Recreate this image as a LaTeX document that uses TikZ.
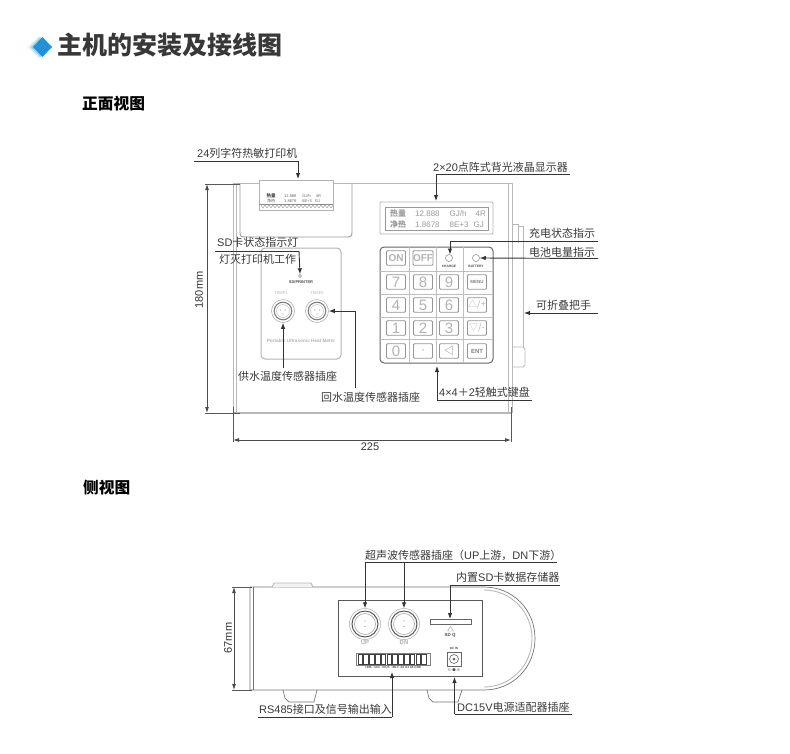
\documentclass[tikz,border=0pt]{standalone}
\usepackage{fontspec}
\setmainfont{Noto Sans CJK SC}
\newfontfamily\la{Liberation Sans}
\usetikzlibrary{arrows.meta}
\tikzset{
 lbl/.style={inner sep=0pt,anchor=west,text=black!78,font=\fontsize{11}{11}\selectfont},
 lead/.style={draw=black!80,line width=.9pt},
 leadarrow/.style={lead,-{Latex[length=6pt,width=4.5pt]}},
 dimline/.style={draw=black!70,line width=.8pt,{Latex[length=6pt,width=4pt]}-{Latex[length=6pt,width=4pt]}},
 ext/.style={draw=black!65,line width=.8pt},
 body/.style={draw=black!28,line width=.9pt},
 bodyd/.style={draw=black!55,line width=.7pt},
 keybox/.style={draw=black!42,line width=.9pt,rounded corners=1pt,minimum width=19pt,minimum height=14.5pt,inner sep=0pt,text=black!30,font=\la\fontsize{9}{9}\selectfont},
 digit/.style={keybox,font=\la\fontsize{15}{15}\selectfont},
 tiny/.style={inner sep=0pt,text=black!70,font=\la\fontsize{3.5}{4}\selectfont},
 pale/.style={inner sep=0pt,text=black!30,font=\la\fontsize{4}{4}\selectfont},
 lcd/.style={inner sep=0pt,anchor=west,text=black!40,font=\fontsize{8}{8}\selectfont},
}
\begin{document}
\begin{tikzpicture}[x=1pt,y=-1pt]
\useasboundingbox (0,0) rectangle (790,753);
% heading
\fill[cyan!20] (28,47) -- (39,36) -- (50,47) -- (39,58) -- cycle;
\fill[cyan!45] (30.5,47) -- (40.5,37) -- (50.5,47) -- (40.5,57) -- cycle;
\fill[cyan!70!blue!90] (33,47) -- (42.5,37) -- (52,47) -- (42.5,57) -- cycle;
\node[inner sep=0pt,anchor=west,text=black!78,font=\fontsize{25}{25}\selectfont\bfseries] (title) at (57,45) {主机的安装及接线图};
\node[inner sep=0pt,anchor=west,font=\fontsize{15.7}{16}\selectfont\bfseries] (front) at (82,104) {正面视图};
\node[inner sep=0pt,anchor=west,font=\fontsize{15.7}{16}\selectfont\bfseries] (side) at (83,488) {侧视图};

% ---------- front body
\draw[body] (233,183) -- (512,183);
\draw[body,line width=1.2pt] (233,413) -- (512,413);
\draw[body] (233,183) -- (233,413);
\draw[body] (236,183) -- (236,413);
\draw[body] (512,183) -- (512,413);
\draw[body] (508,183) -- (508,413);
\draw[body,draw=black!40] (240,183) -- (240,232) .. controls (240,236) and (241,237) .. (245,237) -- (347,237) .. controls (351,237) and (352,236) .. (352,232) -- (352,183);
% handle
\draw[body] (512,224) -- (518,224) -- (518,226) -- (523,226) -- (523,347);
\draw[body] (512,347) -- (523,347) -- (525,349) -- (525,365) -- (523,367) -- (512,367);
\draw[body] (518,226) -- (518,243);
% printer
\draw[draw=black!30,fill=white,line width=.7pt] (259,180) rectangle (333,210);
\draw[black!45,line width=.5pt] (259,204) -- (333,204);
\foreach \i in {0,...,17} \draw[black!45,line width=.3pt] ({261+\i*4},205) -- ({263+\i*4},208) -- ({265+\i*4},205);
\node[inner sep=0pt,font=\fontsize{4.5}{5}\selectfont\bfseries,text=black!75] (prn1) at (271,196) {热量};
\node[inner sep=0pt,font=\fontsize{4}{5}\selectfont,text=black!65] (prn2) at (271,201) {净热};
\node[inner sep=0pt,font=\la\fontsize{4}{5}\selectfont,text=black!60,anchor=west] (prn3) at (284,196) {12.888\hspace{6pt}GJ/h\hspace{5pt}4R};
\node[inner sep=0pt,font=\la\fontsize{4}{5}\selectfont,text=black!60,anchor=west] (prn4) at (284,201) {1.8678\hspace{6pt}8E+3\hspace{3pt}GJ};
% display
\draw[draw=black!30,line width=.9pt,rounded corners=1pt] (380,202) rectangle (493,234);
\draw[draw=black!40,line width=.7pt] (385,207) rectangle (488,230);
\node[lcd] (lcd1) at (390,213) {{\bfseries 热量}\hspace{9pt}{\la 12.888\hspace{10pt}GJ/h\hspace{9pt}4R}};
\node[lcd] (lcd2) at (390,224) {{\bfseries 净热}\hspace{9pt}{\la 1.8678\hspace{10pt}8E+3\hspace{5pt}GJ}};
% left panel
\draw[draw=black!30,line width=1pt,rounded corners=4pt] (261,248) rectangle (341,359);
\node[inner sep=0pt,circle,draw=black!45,line width=.4pt,minimum size=3pt] (sdled) at (300,276) {};
\node[tiny,font=\la\fontsize{4}{4}\selectfont\bfseries] (sdp) at (301,282) {SD/PRINTER};
\node[pale] (t1txt) at (281,293) {TEMP1};
\node[pale] (t2txt) at (317,293) {TEMP2};
\node[pale,font=\la\fontsize{4.7}{4}\selectfont\bfseries] (ph) at (301,341) {Portable Ultrasonic Heat Meter};
\foreach \nm/\x in {t1/283,t2/317}{
 \node[circle,draw=black!30,line width=.6pt,minimum size=23pt,inner sep=0pt] (\nm) at (\x,311) {};
 \draw[black!50,line width=1.1pt] (\x,311) circle[radius=8.8pt];
 \draw[black!25,line width=.5pt] (\x,311) circle[radius=6.5pt];
 \fill[black!40] (\x-2.5,310) circle[radius=.6pt] (\x+2.5,310) circle[radius=.6pt] (\x,314) circle[radius=.6pt];
}
% keypad
\draw[draw=black!60,line width=1pt,rounded corners=4pt] (380,247) rectangle (493,363);
\foreach \x in {409,436,463} \draw[black!25,line width=.9pt] (\x,247) -- (\x,363);
\foreach \y in {271,294,317,339} \draw[black!25,line width=.9pt] (380,\y) -- (493,\y);
\node[keybox,font=\la\fontsize{10}{10}\selectfont\bfseries] (kon) at (396,258) {ON};
\node[keybox,font=\la\fontsize{10}{10}\selectfont\bfseries] (koff) at (423,258) {OFF};
\foreach \nm/\x/\y/\t in {k7/396/282/7,k8/423/282/8,k9/449/282/9,k4/396/305/4,k5/423/305/5,k6/449/305/6,k1/396/328/1,k2/423/328/2,k3/449/328/3,k0/396/351/0}{
 \node[digit] (\nm) at (\x,\y) {\t};
}
\node[keybox,font=\la\fontsize{4.5}{5}\selectfont\bfseries,text=black!50] (kmenu) at (477,282) {MENU};
\node[keybox,font=\fontsize{9}{10}\selectfont] (kplus) at (477,305) {△/+};
\node[keybox,font=\fontsize{9}{10}\selectfont] (kminus) at (477,328) {▽/-};
\node[keybox,font=\la\fontsize{6}{6}\selectfont\bfseries,text=black!50] (kent) at (477,351) {ENT};
\node[keybox,font=\fontsize{6}{6}\selectfont,text=black!50] (kdot) at (423,351) {▫};
\node[keybox,font=\fontsize{10}{11}\selectfont,text=black!50] (kleft) at (449,351) {◁};
\node[circle,draw=black!50,line width=.5pt,minimum size=7pt,inner sep=0pt] (ledc) at (449,258) {};
\node[circle,draw=black!50,line width=.5pt,minimum size=7pt,inner sep=0pt] (ledb) at (476,258) {};
\node[tiny,font=\la\fontsize{3.3}{4}\selectfont\bfseries] (ctxt) at (449,266) {CHARGE};
\node[tiny,font=\la\fontsize{3.3}{4}\selectfont\bfseries] (btxt) at (476,266) {BATTERY};

% labels front
\node[lbl] (lp) at (197,153) {{\la 24}列字符热敏打印机};
\coordinate (lpa) at (194,161); \coordinate (lpb) at (298,161); \coordinate (lpc) at (298,179);
\draw[lead] (lpa) -- (lpb); \draw[leadarrow] (lpb) -- (lpc);
\node[lbl] (ldisp) at (433,167) {{\la 2×20}点阵式背光液晶显示器};
\coordinate (lda) at (570,174); \coordinate (ldb) at (436,174); \coordinate (ldc) at (436,201);
\draw[lead] (lda) -- (ldb); \draw[leadarrow] (ldb) -- (ldc);
\node[lbl] (lsd) at (217,242) {{\la SD}卡状态指示灯};
\node[lbl] (lsd2) at (219,259) {灯灭打印机工作};
\coordinate (lsa) at (215,251); \coordinate (lsb) at (299,251);
\draw[lead] (lsa) -- (lsb); \draw[leadarrow] (lsb) -- (sdled.north);
\node[lbl] (lch) at (529,233) {充电状态指示};
\coordinate (lca) at (598,241); \coordinate (lcb) at (450,241);
\draw[lead] (lca) -- (lcb); \draw[leadarrow] (lcb) -- (450,254.5);
\node[lbl] (lba) at (529,252) {电池电量指示};
\coordinate (lbb) at (598,258.5);
\draw[leadarrow] (lbb) -- (ledb.east);
\node[lbl] (lha) at (536,305) {可折叠把手};
\coordinate (lhb) at (598,313); \coordinate (lhc) at (524,313);
\draw[leadarrow] (lhb) -- (lhc);
\node[lbl] (lt1) at (238,376) {供水温度传感器插座};
\coordinate (lt1a) at (283,368);
\draw[leadarrow] (lt1a) -- (t1.south);
\node[lbl] (lt2) at (321,397) {回水温度传感器插座};
\coordinate (lt2a) at (355,388); \coordinate (lt2b) at (355,311);
\draw[lead] (lt2a) -- (lt2b); \draw[leadarrow] (lt2b) -- (t2.east);
\node[lbl] (lkb) at (439,392) {{\la 4×4}＋{\la 2}轻触式键盘};
\coordinate (lka) at (532,400); \coordinate (lkb2) at (437,400); \coordinate (lkc) at (437,366);
\draw[lead] (lka) -- (lkb2); \draw[leadarrow] (lkb2) -- (lkc);

% dims front
\coordinate (d1a) at (207,184); \coordinate (d1b) at (207,413);
\draw[dimline] (d1a) -- (d1b);
\draw[ext] (205,184) -- (240,184);
\draw[ext] (205,413) -- (240,413);
\node[lbl,anchor=center,rotate=90,text=black!80,font=\la\fontsize{11}{11}\selectfont] (d180) at (199,290) {180mm};
\coordinate (d2a) at (233,440); \coordinate (d2b) at (511,440);
\draw[dimline] (d2a) -- (d2b);
\draw[ext] (233,407) -- (233,442);
\draw[ext] (511,407) -- (511,442);
\node[lbl,anchor=center,text=black!80,font=\la\fontsize{11}{11}\selectfont] (d225) at (370,447) {225};

% ---------- side view
\draw[bodyd] (250,587) -- (484,587) .. controls (513,587) and (535,610) .. (535,638.5) .. controls (535,667) and (513,690) .. (484,690) -- (250,690) -- cycle;
\draw[bodyd] (253,587) -- (253,690);
\draw[body] (484,590) .. controls (511,590) and (532,612) .. (532,638.5) .. controls (532,665) and (511,687) .. (484,687);
\draw[body,fill=black!5] (272,587) -- (274,583) -- (311,583) -- (313,587);
\draw[bodyd] (283,690) -- (285,698) -- (289,702) -- (314,702) -- (317,690);
\draw[bodyd] (427,690) -- (429,698) -- (433,702) -- (458,702) -- (462,690);
\draw[draw=black!65,fill=white,line width=.8pt] (338,600) rectangle (482,676);
\foreach \nm/\x in {up/365,dn/404}{
 \node[circle,draw=black!35,line width=.5pt,minimum size=31pt,inner sep=0pt] (\nm) at (\x,624) {};
 \draw[black!65,line width=1pt] (\x,624) circle[radius=13pt];
 \draw[black!40,line width=.5pt] (\x,624) circle[radius=10.5pt];
 \fill[black!45] (\x,621) circle[radius=.7pt] (\x,626.5) circle[radius=.7pt];
}
\node[pale,font=\la\fontsize{6}{6}\selectfont\bfseries] (upt) at (365,642) {UP};
\node[pale,font=\la\fontsize{6}{6}\selectfont\bfseries] (dnt) at (404,642) {DN};
\node[draw=black!60,line width=.7pt,minimum width=41pt,minimum height=4.5pt,inner sep=0pt] (slot) at (450.5,622) {};
\draw[black!40,line width=.4pt] (447.5,631) -- (450.5,626.5) -- (453.5,631) -- cycle;
\node[tiny,font=\la\fontsize{4.5}{5}\selectfont\bfseries] (sdq) at (450,635) {SD Q};
\node[draw=black!50,line width=.5pt,minimum width=74pt,minimum height=12pt,inner sep=0pt] (term) at (393,659) {};
\foreach \i in {0,...,11} \draw[black!75,line width=.7pt] ({358+\i*5.8},654) rectangle ({362.5+\i*5.8},664);
\node[tiny,font=\la\fontsize{3}{4}\selectfont\bfseries] (termt) at (393,667.5) {+485- +AO- +OUT- +RLY- A0 A4 A5 GND};
\node[tiny,font=\la\fontsize{3}{4}\selectfont\bfseries] (dct) at (454,648) {DC IN};
\node[draw=black!60,line width=.6pt,minimum width=14pt,minimum height=14pt,inner sep=0pt] (jack) at (454,659) {};
\draw[black!60,line width=.6pt] (454,659) circle[radius=4.5pt];
\fill[black!60] (454,659) circle[radius=1.5pt];
\node[tiny,font=\fontsize{3.5}{4}\selectfont] (dcs) at (454,670) {⊖-●-⊕};

\node[lbl] (lus) at (365,555) {超声波传感器插座（{\la UP}上游，{\la DN}下游）};
\coordinate (lua) at (557,562); \coordinate (lub) at (404,562); \coordinate (luc) at (365,562);
\draw[lead] (lua) -- (luc);
\draw[leadarrow] (luc) -- (up.north);
\draw[leadarrow] (lub) -- (dn.north);
\node[lbl] (lsc) at (456,577) {内置{\la SD}卡数据存储器};
\coordinate (lsca) at (560,585); \coordinate (lscb) at (450,585);
\draw[lead] (lsca) -- (lscb); \draw[leadarrow] (lscb) -- (450,619);
\node[lbl] (lrs) at (259,709) {{\la RS485}接口及信号输出输入};
\coordinate (lra) at (258,717); \coordinate (lrb) at (392,717); \coordinate (lrc) at (392,672);
\draw[lead] (lra) -- (lrb); \draw[leadarrow] (lrb) -- (lrc);
\node[lbl] (ldc) at (457,707) {{\la DC15V}电源适配器插座};
\coordinate (ldca) at (572,714); \coordinate (ldcb) at (454.5,714); \coordinate (ldcc) at (454.5,677);
\draw[lead] (ldca) -- (ldcb); \draw[leadarrow] (ldcb) -- (ldcc);

\coordinate (d3a) at (234,587); \coordinate (d3b) at (234,690);
\draw[dimline] (d3a) -- (d3b);
\draw[ext] (232,587) -- (252,587);
\draw[ext] (232,690) -- (252,690);
\node[lbl,anchor=center,rotate=90,text=black!80,font=\la\fontsize{11}{11}\selectfont] (d67) at (228,638) {67mm};
\end{tikzpicture}
\end{document}
